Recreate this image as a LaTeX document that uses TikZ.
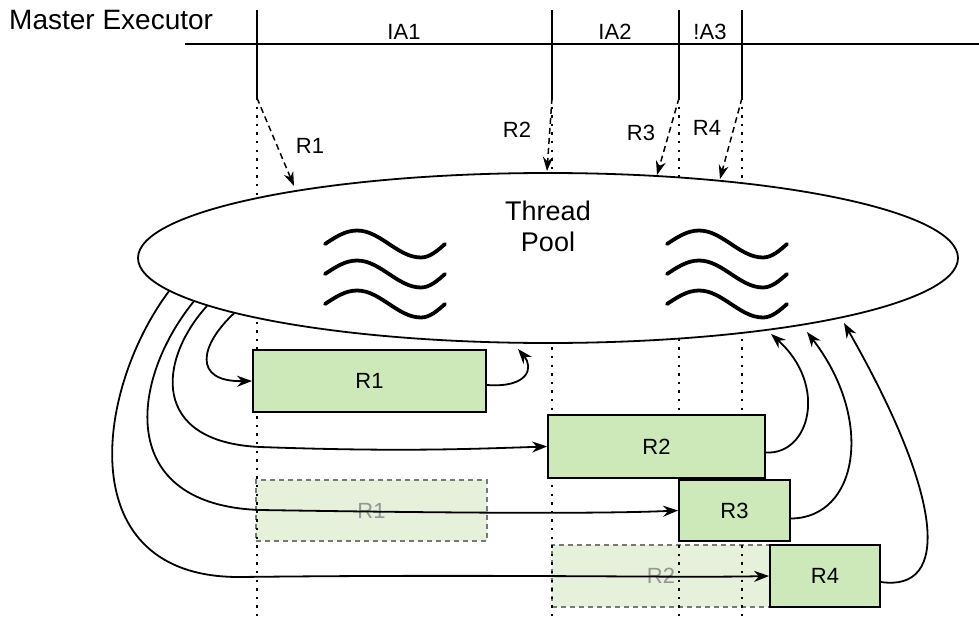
\documentclass[tikz,border=0pt]{standalone}
\usepackage{fontspec}
\setmainfont{Liberation Sans}
\usetikzlibrary{shapes.geometric,arrows.meta,calc}
\definecolor{boxgreen}{RGB}{205,232,185}
\definecolor{ghostgreen}{RGB}{229,241,218}
\definecolor{ghostline}{RGB}{120,120,120}
\definecolor{ghosttext}{RGB}{150,150,150}
\tikzset{
  lbl/.style={font=\fontsize{22}{26}\selectfont, inner sep=0pt},
  biglbl/.style={font=\fontsize{27}{31}\selectfont, inner sep=0pt, align=center},
  tick/.style={line width=1.8pt},
  guide/.style={line width=2.4pt, dash pattern=on 2.4pt off 6.2pt},
  callarrow/.style={line width=1.5pt, dash pattern=on 6pt off 4pt, -{Stealth[length=14pt,width=10pt]}},
  flow/.style={line width=1.8pt, -{Stealth[length=15pt,width=11pt]}},
  taskbox/.style={draw, line width=1.8pt, fill=boxgreen, inner sep=0pt, font=\fontsize{22}{26}\selectfont},
  ghostbox/.style={draw=ghostline, line width=1.6pt, dash pattern=on 5pt off 4pt, fill=ghostgreen, inner sep=0pt, text=ghosttext, font=\fontsize{22}{26}\selectfont},
  wave/.pic={\draw[line width=3.8pt, line cap=round] (0,0) sin (32,-13.5) cos (64,0) sin (96,13.5) cos (120,0);}
}
\begin{document}
\begin{tikzpicture}[x=1pt,y=-1pt]
\useasboundingbox (0,0) rectangle (979,623);
% timeline
\coordinate (hl) at (185,44);
\coordinate (hr) at (979,44);
\draw[tick] (hl) -- (hr);
\coordinate (t1) at (257,10); \coordinate (b1) at (257,98); \coordinate (e1) at (257,620);
\coordinate (t2) at (552,10); \coordinate (b2) at (552,98); \coordinate (e2) at (552,620);
\coordinate (t3) at (679,10); \coordinate (b3) at (679,98); \coordinate (e3) at (679,620);
\coordinate (t4) at (742,10); \coordinate (b4) at (742,98); \coordinate (e4) at (742,620);
\draw[tick] (t1) -- (b1);
\draw[tick] (t2) -- (b2);
\draw[tick] (t3) -- (b3);
\draw[tick] (t4) -- (b4);
\node[font=\fontsize{28}{32}\selectfont, inner sep=0pt, anchor=west] (master) at (9,20) {Master Executor};
\node[lbl] (ia1) at (404,32) {IA1};
\node[lbl] (ia2) at (615,32) {IA2};
\node[lbl] (ia3) at (710,32) {!A3};
% ghost boxes
\node[ghostbox, minimum width=231pt, minimum height=61pt] (g1) at (371.5,510.5) {R1};
\node[ghostbox, minimum width=218pt, minimum height=62pt] (g2) at (661,576) {R2};
% guides
\draw[guide] (b1) -- (e1);
\draw[guide] (b2) -- (e2);
\draw[guide] (b3) -- (e3);
\draw[guide] (b4) -- (e4);
% thread pool
\node[ellipse, draw, line width=1.8pt, fill=white, minimum width=820pt, minimum height=170pt, inner sep=0pt] (pool) at (548,258) {};
\node[biglbl] (pooltxt) at (548,226) {Thread\\Pool};
\pic at (325,244) {wave};
\pic at (325,274) {wave};
\pic at (325,304) {wave};
\pic at (667,244) {wave};
\pic at (667,274) {wave};
\pic at (667,304) {wave};
% dashed calls
\coordinate (c1) at (294,186);
\coordinate (c2) at (547,171);
\coordinate (c3) at (657,175);
\coordinate (c4) at (720,179);
\draw[callarrow] (b1) -- (c1);
\draw[callarrow] (b2) -- (c2);
\draw[callarrow] (b3) -- (c3);
\draw[callarrow] (b4) -- (c4);
\node[lbl] (l1) at (310,146) {R1};
\node[lbl] (l2) at (517,130) {R2};
\node[lbl] (l3) at (641,133) {R3};
\node[lbl] (l4) at (707,128) {R4};
% task boxes
\node[taskbox, minimum width=233pt, minimum height=62pt] (r1) at (369.5,381) {R1};
\node[taskbox, minimum width=217pt, minimum height=63pt] (r2) at (656.5,446.5) {R2};
\node[taskbox, minimum width=111pt, minimum height=61pt] (r3) at (734.5,510.5) {R3};
\node[taskbox, minimum width=110pt, minimum height=62pt] (r4) at (825,576) {R4};
% dispatch curves
\draw[flow] (pool.190.1) .. controls (200,345) and (192,382) .. (r1.west);
\draw[flow] (pool.188.4) .. controls (158,360) and (150,442) .. (260,447) .. controls (400,452) and (470,449) .. (r2.west);
\draw[flow] (pool.187.0) .. controls (130,380) and (115,505) .. (260,510) .. controls (450,513) and (600,514) .. (r3.west);
\draw[flow] (pool.185.7) .. controls (95,390) and (70,578) .. (240,577) .. controls (500,574) and (680,578) .. (r4.west);
% return curves
\coordinate (d1) at (518,349);
\coordinate (d2) at (771,334);
\coordinate (d3) at (807,332);
\coordinate (d4) at (844,323);
\draw[flow] ([yshift=-4pt]r1.east) .. controls (528,388) and (534,368) .. (d1);
\draw[flow] ([yshift=-6pt]r2.east) .. controls (810,455) and (828,385) .. (d2);
\draw[flow] ([yshift=-8pt]r3.east) .. controls (858,518) and (875,420) .. (d3);
\draw[flow] ([yshift=-6pt]r4.east) .. controls (950,592) and (945,500) .. (d4);
\end{tikzpicture}
\end{document}
